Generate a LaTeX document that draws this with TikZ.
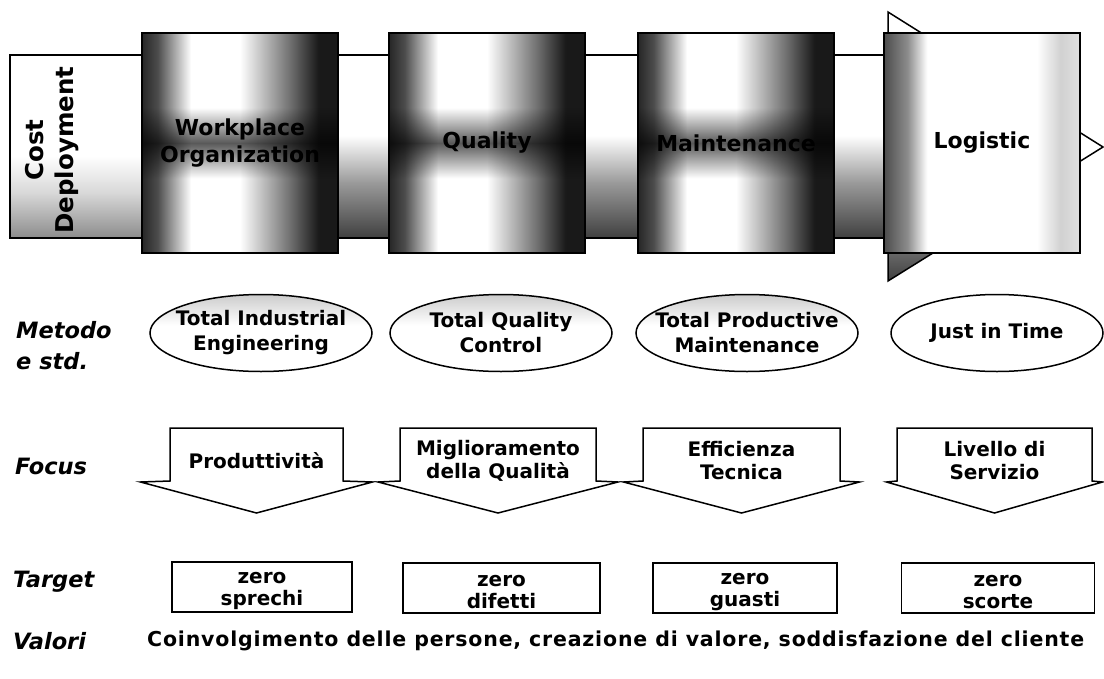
\documentclass[tikz,border=0pt]{standalone}
\usepackage{fontspec}
\setmainfont{DejaVu Sans}
\usetikzlibrary{shapes.geometric,fadings}

% TikZ maps the 25bp..75bp part of a shading onto the path
\pgfdeclarehorizontalshading{cylshade}{100bp}{color(0bp)=(black!85); color(25bp)=(black!85); color(29bp)=(black!70); color(37.5bp)=(white); color(50bp)=(white); color(62.5bp)=(black!55); color(70bp)=(black!90); color(100bp)=(black!90)}
\pgfdeclarehorizontalshading{logshade}{100bp}{color(0bp)=(black!70); color(25bp)=(black!70); color(31bp)=(black!45); color(36bp)=(white); color(64bp)=(white); color(70bp)=(black!18); color(75bp)=(black!12); color(100bp)=(black!12)}
\pgfdeclareverticalshading{bandshade}{100bp}{color(0bp)=(black!75); color(25bp)=(black!75); color(40bp)=(black!40); color(53bp)=(white); color(100bp)=(white)}
\pgfdeclareverticalshading{cdshade}{100bp}{color(0bp)=(black!45); color(25bp)=(black!45); color(37.5bp)=(black!15); color(47.5bp)=(white); color(100bp)=(white)}
\pgfdeclareverticalshading{headshade}{100bp}{color(0bp)=(black!75); color(25bp)=(black!75); color(30bp)=(black!60); color(34bp)=(white); color(100bp)=(white)}
\pgfdeclareverticalshading{ellshade}{100bp}{color(0bp)=(white); color(55bp)=(white); color(75bp)=(black!20); color(100bp)=(black!20)}
\pgfdeclareverticalshading{bandfadeshade}{100bp}{color(0bp)=(pgftransparent!100); color(42bp)=(pgftransparent!100); color(50bp)=(pgftransparent!35); color(58bp)=(pgftransparent!100); color(100bp)=(pgftransparent!100)}
\pgfdeclarefading{midband}{\pgfuseshading{bandfadeshade}}

\newcommand{\focusarr}[5]{%
  \draw[outl, fill=white] (#2-#3,428) -- (#2+#3,428) -- (#2+#3,481) -- (#2+#4,482) -- (#2,513) -- (#2-#4,482) -- (#2-#3,481) -- cycle;
  \node[ftext] (#1) at (#2,461) {#5};}

\begin{document}
\begin{tikzpicture}[x=1pt,y=-1pt,
  outl/.style={draw=black, line width=1.5pt},
  cyl/.style={outl, shading=cylshade, minimum width=196pt, minimum height=220pt, inner sep=0pt, align=center,
    font=\fontsize{22}{27}\selectfont\bfseries,
    path picture={\fill[black, path fading=midband] (path picture bounding box.south west) rectangle (path picture bounding box.north east);}},
  logbox/.style={outl, shading=logshade, minimum width=196pt, minimum height=220pt, inner sep=0pt, align=center,
    font=\fontsize{22}{27}\selectfont\bfseries},
  ell/.style={ellipse, outl, minimum width=222pt, minimum height=77pt, inner xsep=-25pt, inner ysep=-6pt, align=center,
    font=\fontsize{20}{25}\selectfont\bfseries},
  ftext/.style={align=center, inner sep=0pt, font=\fontsize{20}{23}\selectfont\bfseries},
  tbox/.style={outl, fill=white, minimum height=50pt, inner sep=0pt},
  ttext/.style={align=center, inner sep=0pt, font=\fontsize{20}{22}\selectfont\bfseries},
  lab/.style={anchor=west, align=left, inner sep=0pt, font=\fontsize{22.5}{31}\selectfont\bfseries\itshape}
]
\useasboundingbox (0,0) rectangle (1104,678);
\fill[white] (0,0) rectangle (1104,678);

% big arrow: head and shaft
\path[outl, shading=headshade] (888,12) -- (1103,147) -- (888,281) -- cycle;
\path[outl, shading=bandshade] (142,55) rectangle (900,238);
\node[outl, shading=cdshade, minimum width=132pt, minimum height=183pt, inner sep=0pt] (cd) at (76,146.5) {};
\node[rotate=90, align=center, inner sep=0pt, font=\fontsize{24.5}{30}\selectfont\bfseries] (cdtext) at (52,150) {Cost\\Deployment};

\node[cyl] (wo) at (240,143) {Workplace\\Organization};
\node[cyl] (qu) at (487,143) {Quality};
\node[cyl] (ma) at (736,143) {Maintenance};
\node[logbox] (lo) at (982,143) {Logistic};

% row labels
\node[lab] (lmet) at (16,346) {Metodo\\e std.};
\node[lab] (lfoc) at (15,466) {Focus};
\node[lab] (ltar) at (13,582) {Target};
\node[lab] (lval) at (13,641) {Valori};

% methods
\node[ell, shading=ellshade] (e1) at (261,333) {Total Industrial\\Engineering};
\node[ell, shading=ellshade] (e2) at (501,333) {Total Quality\\Control};
\node[ell, shading=ellshade] (e3) at (747,333) {Total Productive\\Maintenance};
\node[ell, fill=white, minimum width=212pt] (e4) at (997,333) {Just in Time};

% focus arrows
\focusarr{f1}{256.5}{86.5}{116}{Produttività}
\focusarr{f2}{498}{98}{120}{Miglioramento\\della Qualità}
\focusarr{f3}{741.5}{98.5}{118}{Efficienza\\Tecnica}
\focusarr{f4}{994.5}{97.5}{108}{Livello di\\Servizio}

% targets
\node[tbox, minimum width=180pt] (t1) at (262,587) {};
\node[tbox, minimum width=197pt] (t2) at (501.5,588) {};
\node[tbox, minimum width=184pt] (t3) at (745,588) {};
\node[tbox, minimum width=193pt] (t4) at (998,588) {};
\node[ttext] (t1x) at (262,591) {zero\\sprechi};
\node[ttext] (t2x) at (501.5,592) {zero\\difetti};
\node[ttext] (t3x) at (745,592) {zero\\guasti};
\node[ttext] (t4x) at (998,592) {zero\\scorte};

% values
\node[anchor=west, inner sep=0pt, font=\fontsize{20.5}{23}\selectfont\bfseries\addfontfeatures{LetterSpace=4}] (val) at (147,641) {Coinvolgimento delle persone, creazione di valore, soddisfazione del cliente};
\end{tikzpicture}
\end{document}
